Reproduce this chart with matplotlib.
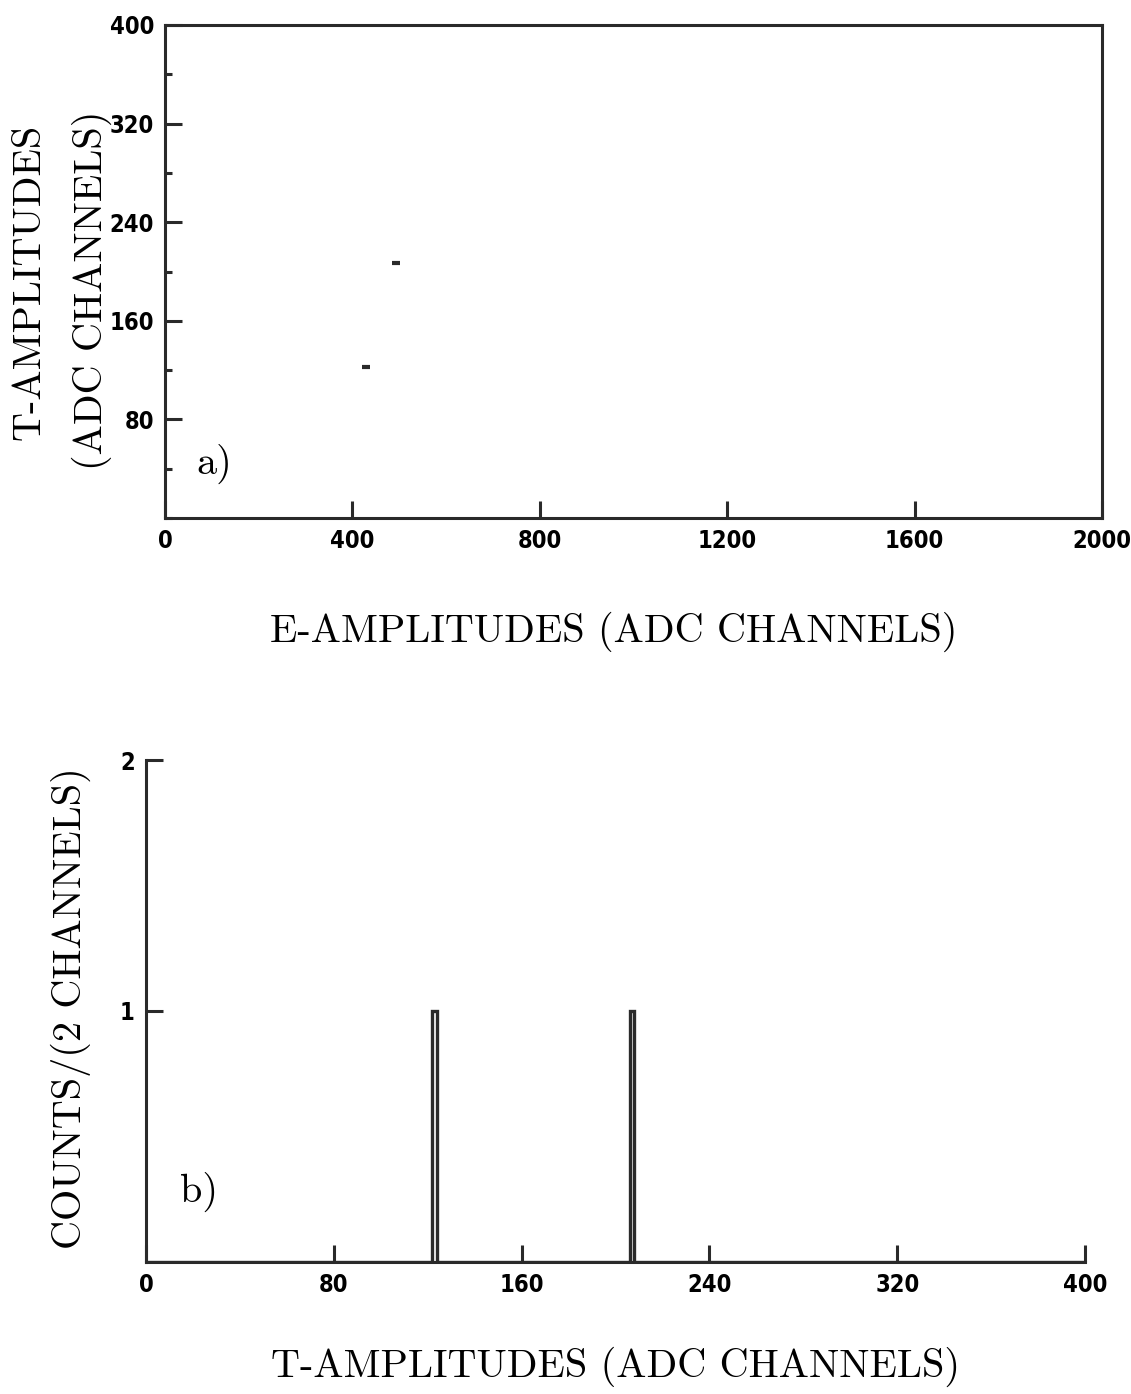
import numpy as np
import matplotlib
matplotlib.use('Agg')
import matplotlib.pyplot as plt
from matplotlib.ticker import MultipleLocator

# events (panel a)
e_amp = [429, 493]
t_amp = [122.5, 207]

# binning of the T histogram (panel b): 2 channels per bin
t_bins = np.arange(0, 402, 2)

xticks_a = [0, 400, 800, 1200, 1600, 2000]
yticks_a = [80, 160, 240, 320, 400]
xticks_b = [0, 80, 160, 240, 320, 400]
yticks_b = [1, 2]

tick_font = dict(family=['DejaVu Sans'], stretch='condensed', weight='bold', size=17)
label_font = dict(family=['cmr10', 'DejaVu Serif'], size=29)

W, H = 1131, 1394
fig = plt.figure(figsize=(W / 100, H / 100), dpi=100)

lw = 2.2
ink = '#2a2a2a'

# ---- panel a ----
ax1 = fig.add_axes([165 / W, (H - 518) / H, (1102 - 165) / W, (518 - 25) / H])
ax1.plot(e_amp, t_amp, linestyle='none', marker='_', markersize=6, mew=3, color=ink)
ax1.set_xlim(0, 2000)
ax1.set_ylim(0, 400)
ax1.set_xticks(xticks_a)
ax1.set_yticks(yticks_a)
ax1.yaxis.set_minor_locator(MultipleLocator(40))
for s in ax1.spines.values():
    s.set_linewidth(lw)
    s.set_color(ink)
ax1.tick_params(which='major', direction='in', length=12, width=lw, color=ink,
                bottom=True, left=True, top=False, right=False, pad=8)
ax1.tick_params(which='minor', direction='in', length=5, width=lw, color=ink,
                left=True, right=False, bottom=False, top=False)
ax1.set_xticklabels([str(v) for v in xticks_a], **tick_font)
ax1.set_yticklabels([str(v) for v in yticks_a], **tick_font)
ax1.text(0.033, 0.09, 'a)', transform=ax1.transAxes, **label_font)
fig.text(614 / W, 1 - 632 / H, 'E-AMPLITUDES (ADC CHANNELS)', ha='center', va='center', **label_font)
fig.text(30 / W, 1 - 282 / H, 'T-AMPLITUDES', rotation=90, ha='center', va='center', **label_font)
fig.text(92 / W, 1 - 290 / H, '(ADC CHANNELS)', rotation=90, ha='center', va='center', **label_font)

# ---- panel b ----
ax2 = fig.add_axes([146 / W, (H - 1262) / H, (1082 - 143) / W, (1262 - 760) / H])
ax2.hist(t_amp, bins=t_bins, histtype='step', color=ink, linewidth=2.4)
ax2.set_xlim(0, 400)
ax2.set_ylim(0, 2)
ax2.set_xticks(xticks_b)
ax2.set_yticks(yticks_b)
ax2.spines['top'].set_visible(False)
ax2.spines['right'].set_visible(False)
for s in ['left', 'bottom']:
    ax2.spines[s].set_linewidth(lw)
    ax2.spines[s].set_color(ink)
ax2.tick_params(which='major', direction='in', length=12, width=lw, color=ink, pad=8)
ax2.set_xticklabels([str(v) for v in xticks_b], **tick_font)
ax2.set_yticklabels([str(v) for v in yticks_b], **tick_font)
ax2.text(0.036, 0.12, 'b)', transform=ax2.transAxes, **label_font)
ax2.set_xlabel('T-AMPLITUDES (ADC CHANNELS)', labelpad=36, **label_font)
fig.text(71 / W, 1 - 1008 / H, 'COUNTS/(2 CHANNELS)', rotation=90, ha='center', va='center', **label_font)

fig.savefig('out.png', dpi=100)
